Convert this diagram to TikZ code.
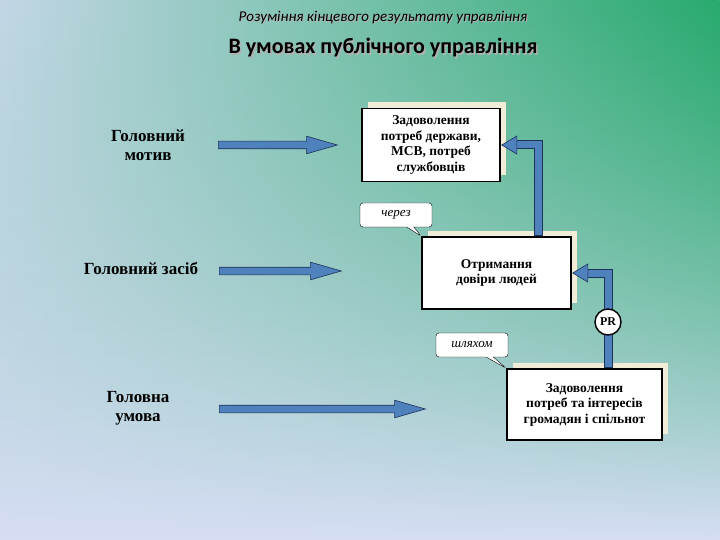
\documentclass[tikz,border=0pt]{standalone}
\usepackage{fontspec}
\setmainfont{Liberation Serif}
\newfontfamily\titlefont{Carlito}
\usetikzlibrary{shapes.arrows,shapes.callouts,shadows,calc,fadings}
\definecolor{barblue}{RGB}{79,129,189}
\definecolor{bardark}{RGB}{30,50,90}
\definecolor{shadowc}{RGB}{240,236,215}
\tikzset{
  box/.style={draw=black,line width=1.6pt,fill=white,align=center,font=\fontsize{13.5}{15.5}\selectfont\bfseries,inner sep=3pt,
     copy shadow={shadow xshift=6pt,shadow yshift=6pt,fill=shadowc,draw=none}},
  lbl/.style={align=center,font=\fontsize{17}{19}\selectfont\bfseries},
  blockarrow/.style={single arrow,fill=barblue,draw=bardark,line width=0.6pt,minimum height=#1,single arrow head extend=5pt,single arrow tip angle=32,inner sep=3.5pt,text height=0pt,text depth=0pt,text width=0pt,anchor=west},
  callbox/.style={rectangle callout,draw=black,fill=white,rounded corners=3pt,font=\fontsize{13}{15}\selectfont\itshape,minimum width=72pt,minimum height=24pt,inner sep=2pt},
  barout/.style={line width=9pt,draw=bardark},
  barin/.style={line width=7pt,draw=barblue},
}
\begin{document}
\begin{tikzpicture}[x=1pt,y=-1pt]
\shade[top color={rgb,255:red,150;green,200;blue,190},bottom color={rgb,255:red,215;green,222;blue,245}] (0,0) rectangle (720,540);
\shade[left color={rgb,255:red,195;green,215;blue,230},right color={rgb,255:red,40;green,170;blue,110},path fading=south] (0,0) rectangle (720,540);
\useasboundingbox (0,0) rectangle (720,540);

\node[font=\titlefont\fontsize{15}{17}\selectfont\itshape,text=gray!60] at (384,19) {Розуміння кінцевого результату управління};
\node[font=\titlefont\fontsize{15}{17}\selectfont\itshape] (t1) at (383,18) {Розуміння кінцевого результату управління};
\node[font=\titlefont\fontsize{22}{24}\selectfont\bfseries,text=gray!60] at (384.5,49.5) {В умовах публічного управління};
\node[font=\titlefont\fontsize{22}{24}\selectfont\bfseries] (t2) at (383,48) {В умовах публічного управління};

\node[lbl] (l1) at (148,145) {Головний\\мотив};
\node[lbl] (l2) at (141,268) {Головний засіб};
\node[lbl] (l3) at (138,408) {Головна\\ умова};

\node[blockarrow=119pt] (a1) at (218,145) {};
\node[blockarrow=122pt] (a2) at (219,271) {};
\node[blockarrow=206pt] (a3) at (219,409) {};

\node[box,minimum width=138pt,minimum height=73pt] (b1) at (431,145) {Задоволення\\потреб держави,\\МСВ, потреб\\службовців};
\node[box,minimum width=149pt,minimum height=72pt] (b2) at (496.5,273) {Отримання\\довіри людей};
\node[box,minimum width=155pt,minimum height=71pt] (b3) at (584.5,404.5) {Задоволення\\потреб та інтересів\\громадян і спільнот};

\node[callbox,callout absolute pointer={(b2.north west)}] (c1) at (396,215) {через};
\node[callbox,callout absolute pointer={(b3.north west)}] (c2) at (472,345) {шляхом};

\coordinate (k1) at (538,145);
\coordinate (k2) at (608,273);
\draw[barout] (b2.north -| k1) -- (k1) -- ($(b1.east)+(14,0)$);
\draw[barin] ($(b2.north -| k1)+(0,-1)$) -- (k1) -- ($(b1.east)+(14,0)$);
\filldraw[fill=barblue,draw=bardark,line width=0.6pt] ($(b1.east)+(16,-9)$) -- ($(b1.east)+(1,0)$) -- ($(b1.east)+(16,9)$) -- cycle;
\draw[barout] (b3.north -| k2) -- (k2) -- ($(b2.east)+(14,0)$);
\draw[barin] ($(b3.north -| k2)+(0,-1)$) -- (k2) -- ($(b2.east)+(14,0)$);
\filldraw[fill=barblue,draw=bardark,line width=0.6pt] ($(b2.east)+(16,-9)$) -- ($(b2.east)+(1,0)$) -- ($(b2.east)+(16,9)$) -- cycle;
\node[circle,draw=black,line width=1.4pt,fill=white,minimum size=26pt,inner sep=0pt,font=\fontsize{12}{14}\selectfont\bfseries] (pr) at (608,322) {PR};
\end{tikzpicture}
\end{document}
